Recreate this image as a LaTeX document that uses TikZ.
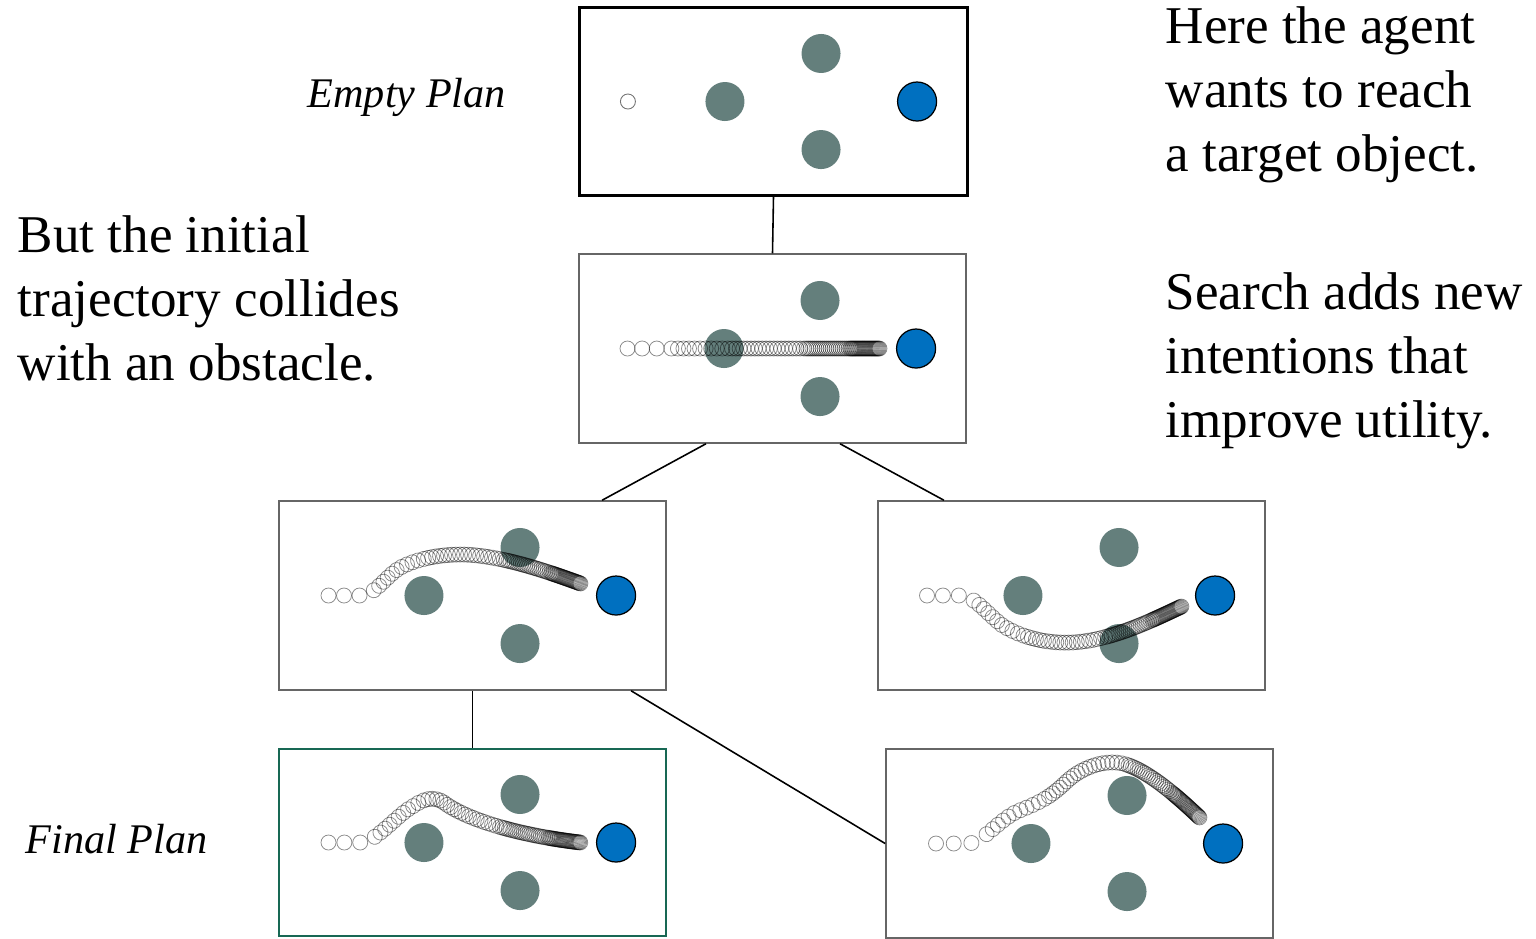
\documentclass[tikz,border=0pt]{standalone}
\usepackage{fontspec}
\setmainfont{Liberation Serif}
\usetikzlibrary{positioning,calc,decorations.markings}
\definecolor{obstgray}{RGB}{100,127,124}
\definecolor{goalblue}{RGB}{0,112,192}
\definecolor{finalgreen}{RGB}{24,104,84}
\tikzset{
	panel/.style = {rectangle, draw=black!60, line width=0.4pt, minimum width=3.87cm, minimum height=1.89cm, inner sep=0pt},
	obstacle/.style = {circle, fill=obstgray, minimum size=0.39cm, inner sep=0pt},
	goal/.style = {circle, fill=goalblue, draw=black, line width=0.35pt, minimum size=0.39cm, inner sep=0pt},
	agent/.style = {circle, draw=black!55, line width=0.25pt, minimum size=0.15cm, inner sep=0pt},
	ghost/.style = {draw=black, draw opacity=0.45, line width=0.22pt},
	link/.style = {line width=0.45pt},
	caption/.style = {font=\fontsize{15.1}{18.2}\selectfont, align=left, inner sep=0pt, anchor=base west},
	tag/.style = {font=\fontsize{12}{14}\selectfont\itshape, inner sep=0pt, anchor=base west},
	trail/.style = {decorate, decoration={markings,
		mark=between positions 0 and 0.18 step 0.058 with {\draw[ghost] (0,0) circle[radius=0.075cm];},
		mark=between positions 0.2 and 0.4 step 0.022 with {\draw[ghost] (0,0) circle[radius=0.075cm];},
		mark=between positions 0.415 and 0.7 step 0.015 with {\draw[ghost] (0,0) circle[radius=0.075cm];},
		mark=between positions 0.71 and 0.88 step 0.008 with {\draw[ghost] (0,0) circle[radius=0.075cm];},
		mark=between positions 0.884 and 1 step 0.004 with {\draw[ghost] (0,0) circle[radius=0.075cm];}}}
}
% obstacles and target inside one plan
\newcommand{\world}[1]{%
	\node[obstacle] (#1-o1) at ([xshift=-0.485cm]#1.center) {};
	\node[obstacle] (#1-o2) at ([xshift=0.475cm, yshift=0.48cm]#1.center) {};
	\node[obstacle] (#1-o3) at ([xshift=0.475cm, yshift=-0.48cm]#1.center) {};
	\node[goal] (#1-g) at ([xshift=1.435cm]#1.center) {};
}

\begin{document}
\begin{tikzpicture}[x=0.01cm, y=-0.01cm]
	\useasboundingbox (0,0) rectangle (1536,938);

	% plans
	\node[panel, draw=black, line width=0.85pt, minimum height=1.87cm] (empty) at (773.5,101.5) {};
	\node[panel] (first) at (772.5,348.5) {};
	\node[panel] (upper) at (472.5,595.5) {};
	\node[panel] (lower) at (1071.5,595.5) {};
	\node[panel, draw=finalgreen, line width=0.7pt, minimum height=1.87cm] (final) at (472.5,842.5) {};
	\node[panel] (detour) at (1079.5,843.5) {};

	% tree edges
	\draw[link] (empty.south) -- (first.north);
	\draw[link] ([xshift=-0.665cm]first.south) -- ([xshift=1.295cm]upper.north);
	\draw[link] ([xshift=0.675cm]first.south) -- ([xshift=-1.275cm]lower.north);
	\draw[link] (upper.south) -- (final.north);
	\draw[link] ([xshift=1.585cm]upper.south) -- (detour.west);

	\world{empty}
	\world{first}
	\world{upper}
	\world{lower}
	\world{final}
	\world{detour}

	% trajectories
	\node[agent] (empty-a) at ([xshift=-1.455cm]empty.center) {};
	\begin{scope}[shift={(first.center)}]
		\path[trail] (-145,0) -- (107,0);
	\end{scope}
	\begin{scope}[shift={(upper.center)}]
		\path[trail] (-144,0) -- (-112,0) .. controls (-97,0) and (-85,-22) .. (-70,-29)
			.. controls (-50,-39) and (-20,-43) .. (5,-40) .. controls (40,-36) and (75,-24) .. (108,-12);
	\end{scope}
	\begin{scope}[shift={(lower.center)}]
		\path[trail] (-144.5,0) -- (-112,0) .. controls (-97,0) and (-85,18) .. (-69,30)
			.. controls (-50,42) and (-25,48) .. (0,47) .. controls (40,45) and (80,25) .. (110,11);
	\end{scope}
	\begin{scope}[shift={(final.center)}]
		\path[trail] (-144,0) -- (-112,0) .. controls (-97,0) and (-75,-28) .. (-60,-36)
			.. controls (-48,-44) and (-40,-46) .. (-30,-41) .. controls (-10,-25) and (40,-8) .. (108,0);
	\end{scope}
	\begin{scope}[shift={(detour.center)}]
		\path[trail] (-143.5,0) -- (-112,0) .. controls (-97,0) and (-80,-25) .. (-60,-33)
			.. controls (-40,-41) and (-30,-46) .. (-15,-60) .. controls (0,-75) and (20,-82) .. (36,-81)
			.. controls (60,-80) and (95,-50) .. (120,-26);
	\end{scope}

	% labels
	\node[tag] (emptylbl) at (307,107) {Empty Plan};
	\node[tag] (finallbl) at (25,853) {Final Plan};
	\node[caption] (goaltxt) at (1165,171) {Here the agent\\wants to reach\\a target object.};
	\node[caption] (hittxt) at (17,380) {But the initial\\trajectory collides\\with an obstacle.};
	\node[caption] (searchtxt) at (1165,437) {Search adds new\\intentions that\\improve utility.};
\end{tikzpicture}
\end{document}
